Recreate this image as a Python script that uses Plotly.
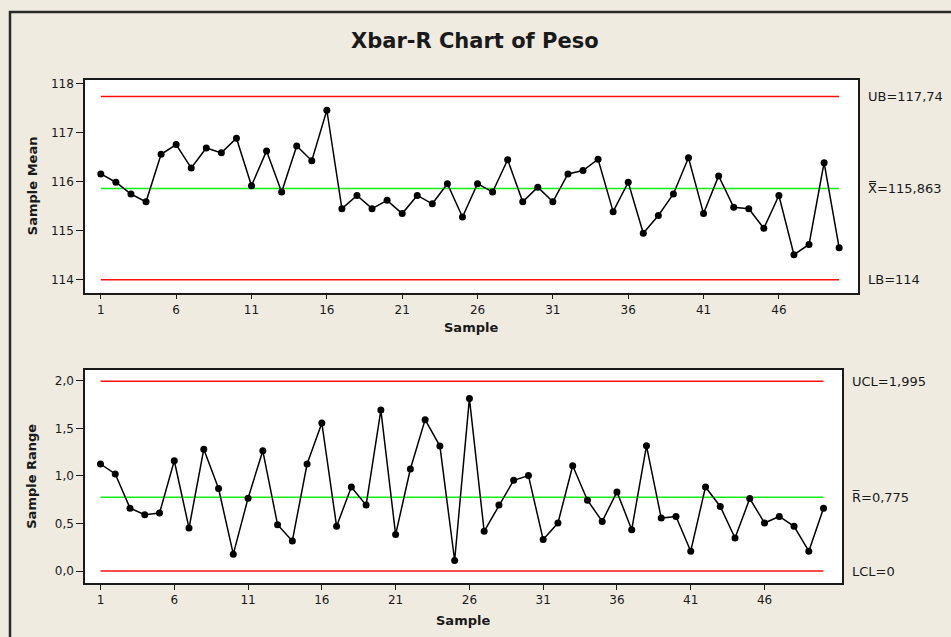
import plotly.graph_objects as go

# Subgroup numbers
samples = list(range(1, 51))

# Subgroup means (Peso)
means = [116.16, 115.99, 115.75, 115.59, 116.56, 116.76, 116.28, 116.69, 116.59, 116.89,
         115.92, 116.63, 115.79, 116.73, 116.43, 117.46, 115.45, 115.72, 115.45, 115.62,
         115.35, 115.72, 115.55, 115.96, 115.28, 115.96, 115.79, 116.45, 115.59, 115.89,
         115.59, 116.16, 116.23, 116.46, 115.39, 115.99, 114.95, 115.31, 115.75, 116.49,
         115.35, 116.12, 115.48, 115.45, 115.05, 115.72, 114.51, 114.72, 116.39, 114.65]

# Subgroup ranges
ranges = [1.125, 1.02, 0.661, 0.592, 0.609, 1.159, 0.452, 1.281, 0.867, 0.178,
          0.766, 1.264, 0.487, 0.317, 1.125, 1.556, 0.47, 0.884, 0.693, 1.692,
          0.383, 1.072, 1.591, 1.313, 0.111, 1.814, 0.418, 0.693, 0.954, 1.003,
          0.331, 0.505, 1.107, 0.745, 0.522, 0.832, 0.435, 1.316, 0.557, 0.574,
          0.209, 0.884, 0.679, 0.348, 0.762, 0.505, 0.574, 0.47, 0.209, 0.661]

# Control limits
xbar_ub, xbar_center, xbar_lb = 117.74, 115.863, 114.0
r_ucl, r_center, r_lcl = 1.995, 0.775, 0.0

xbar_limit_labels = ["UB=117,74", "X\u033F=115,863", "LB=114"]
r_limit_labels = ["UCL=1,995", "R\u0305=0,775", "LCL=0"]

x_tickvals = [1, 6, 11, 16, 21, 26, 31, 36, 41, 46]
xbar_tickvals = [114, 115, 116, 117, 118]
r_tickvals = [0.0, 0.5, 1.0, 1.5, 2.0]
r_ticktext = ["0,0", "0,5", "1,0", "1,5", "2,0"]

W, H = 951, 637
FONT = "DejaVu Sans"
BG = "#EFEBE1"
INK = "#1a1a1a"
RED = "#FF1010"
GREEN = "#10F010"


def px(x):
    return x / W


def py(y):
    return 1 - y / H


fig = go.Figure()

# limit lines and data for each panel
for xa, ya, vals, ub, c, lb in [("x", "y", means, xbar_ub, xbar_center, xbar_lb),
                                 ("x2", "y2", ranges, r_ucl, r_center, r_lcl)]:
    for lvl, col in [(ub, RED), (lb, RED), (c, GREEN)]:
        fig.add_trace(go.Scatter(x=[samples[0], samples[-1]], y=[lvl, lvl], mode="lines",
                                 line=dict(color=col, width=1.6), xaxis=xa, yaxis=ya,
                                 hoverinfo="skip", showlegend=False))
    fig.add_trace(go.Scatter(x=samples, y=vals, mode="lines+markers",
                             line=dict(color="black", width=1.5),
                             marker=dict(color="black", size=7),
                             xaxis=xa, yaxis=ya, showlegend=False))

axis_common = dict(showgrid=False, zeroline=False, showline=True, mirror=True,
                   linecolor=INK, linewidth=1.5, ticks="outside",
                   tickwidth=1.2, tickcolor=INK,
                   tickfont=dict(family=FONT, size=12, color=INK))

fig.update_layout(
    width=W, height=H,
    margin=dict(l=0, r=0, t=0, b=0),
    paper_bgcolor=BG, plot_bgcolor="white",
    font=dict(family=FONT, color=INK),
    xaxis=dict(domain=[px(85), px(858)], range=[-0.05, 51.25], tickvals=x_tickvals,
               anchor="y", ticklen=5, **axis_common),
    yaxis=dict(domain=[py(291), py(77)], range=[113.736, 118.085], tickvals=xbar_tickvals,
               anchor="x", ticklen=7, **axis_common),
    xaxis2=dict(domain=[px(85), px(842)], range=[-0.05, 51.25], tickvals=x_tickvals,
                anchor="y2", ticklen=5, **axis_common),
    yaxis2=dict(domain=[py(583), py(369)], range=[-0.128, 2.110], tickvals=r_tickvals,
                ticktext=r_ticktext, anchor="x2", ticklen=7, **axis_common),
)


def label(x, y, text, size=12, yref="paper", xanchor="center", angle=0):
    return dict(x=x, y=y, xref="paper", yref=yref, text=text, showarrow=False,
                xanchor=xanchor, yanchor="middle", textangle=angle,
                font=dict(family=FONT, size=size, color=INK))


ann = [
    label(px(475), py(38), "<b>Xbar-R Chart of Peso</b>", size=21),
    # axis titles
    label(px(471), py(326), "<b>Sample</b>", size=13),
    label(px(463), py(620), "<b>Sample</b>", size=13),
    label(px(32), py(184), "<b>Sample Mean</b>", size=13, angle=-90),
    label(px(32), py(476), "<b>Sample Range</b>", size=13, angle=-90),
]

# limit value labels on the right of each panel
for lvl, txt in zip([xbar_ub, xbar_center, xbar_lb], xbar_limit_labels):
    ann.append(label(px(866), lvl, txt, size=13, yref="y", xanchor="left"))
for lvl, txt in zip([r_ucl, r_center, r_lcl], r_limit_labels):
    ann.append(label(px(850), lvl, txt, size=13, yref="y2", xanchor="left"))
fig.update_layout(annotations=ann)

# outer frame
fig.add_shape(type="rect", xref="paper", yref="paper", x0=px(10), x1=px(W + 20),
              y0=py(H + 20), y1=py(9), line=dict(color="#2a2a2a", width=2.5),
              fillcolor="rgba(0,0,0,0)", layer="above")

fig.write_html("out.html")
